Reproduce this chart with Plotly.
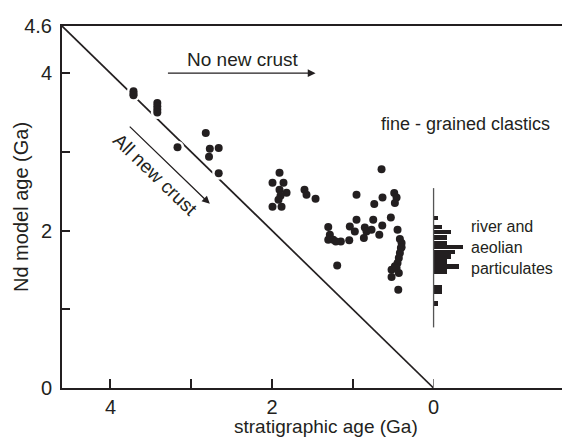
import plotly.graph_objects as go

# ---- data: stratigraphic age (Ga) vs Nd model age (Ga), fine-grained clastics ----
strat_age = [3.715, 3.715, 3.715, 3.42, 3.42, 3.42, 3.42,
             3.17, 2.82, 2.77, 2.66, 2.78, 2.66,
             1.907, 1.994, 1.858, 1.907, 1.820, 1.895, 1.920, 1.994, 1.882,
             1.598, 1.573, 1.461,
             0.644, 0.954, 0.632, 0.734, 0.487, 0.458, 0.479,
             1.304, 0.954, 1.037, 0.975, 0.851, 0.747, 0.768, 0.635, 0.672, 0.529, 0.830,
             1.284, 1.304, 1.242, 1.148, 1.210, 1.044, 0.863, 1.193,
             0.446, 0.417, 0.396, 0.405, 0.417, 0.430, 0.446, 0.479, 0.520, 0.430,
             0.520, 0.437, 0.458, 0.396]
nd_age = [3.77, 3.74, 3.72, 3.62, 3.58, 3.54, 3.50,
          3.06, 3.24, 3.04, 3.05, 2.94, 2.73,
          2.735, 2.608, 2.608, 2.519, 2.481, 2.443, 2.392, 2.303, 2.303,
          2.519, 2.456, 2.405,
          2.78, 2.456, 2.42, 2.337, 2.477, 2.42, 2.35,
          2.046, 2.138, 2.053, 1.99, 2.041, 2.138, 2.011, 2.066, 1.948, 2.168, 1.99,
          1.948, 1.885, 1.885, 1.863, 1.863, 1.876, 1.906, 1.558,
          2.011, 1.893, 1.843, 1.779, 1.716, 1.652, 1.589, 1.546, 1.504, 1.462,
          1.411, 1.25, 1.525, 1.787]

# ---- river and aeolian particulates: histogram of Nd model ages ----
hist_bin_centers = [2.157, 2.049, 1.980, 1.910, 1.846, 1.789, 1.732, 1.669,
                    1.605, 1.542, 1.478, 1.275, 1.218, 1.072]
hist_counts = [1, 2, 4, 3, 3, 7, 5, 4, 3, 6, 3, 2, 2, 1]
hist_span = [0.77, 2.54]          # extent of the histogram's vertical base line (Ga)

# reference line: Nd model age = stratigraphic age ("all new crust")
diag = [0, 4.6]

x_ticks = [4, 3, 2, 1, 0]
x_ticktext = ["4", "", "2", "", "0"]
y_ticks = [0, 1, 2, 3, 4, 4.6]
y_ticktext = ["0", "", "2", "", "4", "4.6"]

INK = "#231f20"
FONT = "Liberation Sans, Arial, Helvetica, sans-serif"
X_RANGE = [4.6, -1.59]
Y_RANGE = [0, 4.6]

fig = go.Figure()

fig.add_trace(go.Scatter(x=diag, y=diag, mode="lines",
                         line=dict(color=INK, width=1.7), hoverinfo="skip",
                         showlegend=False))
# white halo so points interrupt the line, then black dots
fig.add_trace(go.Scatter(x=strat_age, y=nd_age, mode="markers",
                         marker=dict(color="white", size=13, line=dict(width=0)),
                         hoverinfo="skip", showlegend=False))
fig.add_trace(go.Scatter(x=strat_age, y=nd_age, mode="markers",
                         marker=dict(color=INK, size=8, line=dict(width=0)),
                         showlegend=False))

# histogram on its own x axis starting at stratigraphic age 0
fig.add_trace(go.Bar(y=hist_bin_centers, x=hist_counts, orientation="h",
                     xaxis="x2", yaxis="y", width=0.056,
                     marker=dict(color=INK, line=dict(width=0)),
                     showlegend=False))

fig.add_shape(type="line", xref="x", yref="y", x0=0, x1=0,
              y0=hist_span[0], y1=hist_span[1],
              line=dict(color="#555", width=1.3))

d0 = (X_RANGE[0] - 0) / (X_RANGE[0] - X_RANGE[1])
plot_w = 500
unit_px = 4.2
x2_max = plot_w * (1 - d0) / unit_px

fig.update_layout(
    width=562, height=438,
    margin=dict(l=62, r=0, t=26, b=50),
    paper_bgcolor="white", plot_bgcolor="white",
    font=dict(family=FONT, color=INK, size=20),
    bargap=0,
    xaxis=dict(range=X_RANGE, tickvals=x_ticks, ticktext=x_ticktext,
               ticks="inside", ticklen=9, tickwidth=1.5, tickcolor=INK,
               showline=True, linewidth=2, linecolor=INK, mirror=True,
               showgrid=False, zeroline=False, ticklabelstandoff=0,
               tickfont=dict(size=20)),
    xaxis2=dict(domain=[d0, 1], range=[0, x2_max], anchor="y",
                visible=False, showgrid=False, zeroline=False),
    yaxis=dict(range=Y_RANGE, tickvals=y_ticks, ticktext=y_ticktext,
               ticks="inside", ticklen=8, tickwidth=1.5, tickcolor=INK,
               showline=True, linewidth=2, linecolor=INK, mirror=False,
               showgrid=False, zeroline=False, ticklabelstandoff=4,
               tickfont=dict(size=20)),
)

annos = [
    # axis titles
    dict(text="stratigraphic age (Ga)", xref="paper", yref="paper",
         x=0.527, y=-0.107, showarrow=False, font=dict(size=19),
         xanchor="center", yanchor="middle"),
    dict(text="Nd model age (Ga)", xref="paper", yref="paper",
         x=-0.082, y=0.5, showarrow=False, textangle=-90, font=dict(size=20),
         xanchor="center", yanchor="middle"),
    # labels
    dict(text="No new crust", x=2.36, y=4.17, xref="x", yref="y",
         showarrow=False, font=dict(size=19)),
    dict(text="fine - grained clastics", x=-0.394, y=3.357, xref="x", yref="y",
         showarrow=False, font=dict(size=18)),
    dict(text="All new crust", x=3.449, y=2.709, xref="x", yref="y",
         showarrow=False, textangle=44, font=dict(size=19)),
    dict(text="river and<br>aeolian<br>particulates", x=-0.433, y=1.783,
         xref="x", yref="y", showarrow=False, xanchor="left", yanchor="middle",
         align="left", font=dict(size=16)),
    # arrows
    dict(text="", x=1.461, y=4.0, ax=3.307, ay=4.0, xref="x", yref="y",
         axref="x", ayref="y", showarrow=True, arrowhead=2, arrowsize=1.2,
         arrowwidth=1.3, arrowcolor=INK),
    dict(text="", x=2.77, y=2.34, ax=3.78, ay=3.34, xref="x", yref="y",
         axref="x", ayref="y", showarrow=True, arrowhead=2, arrowsize=1.2,
         arrowwidth=1.3, arrowcolor=INK),
]
fig.update_layout(annotations=annos)

fig.write_html("out.html")
